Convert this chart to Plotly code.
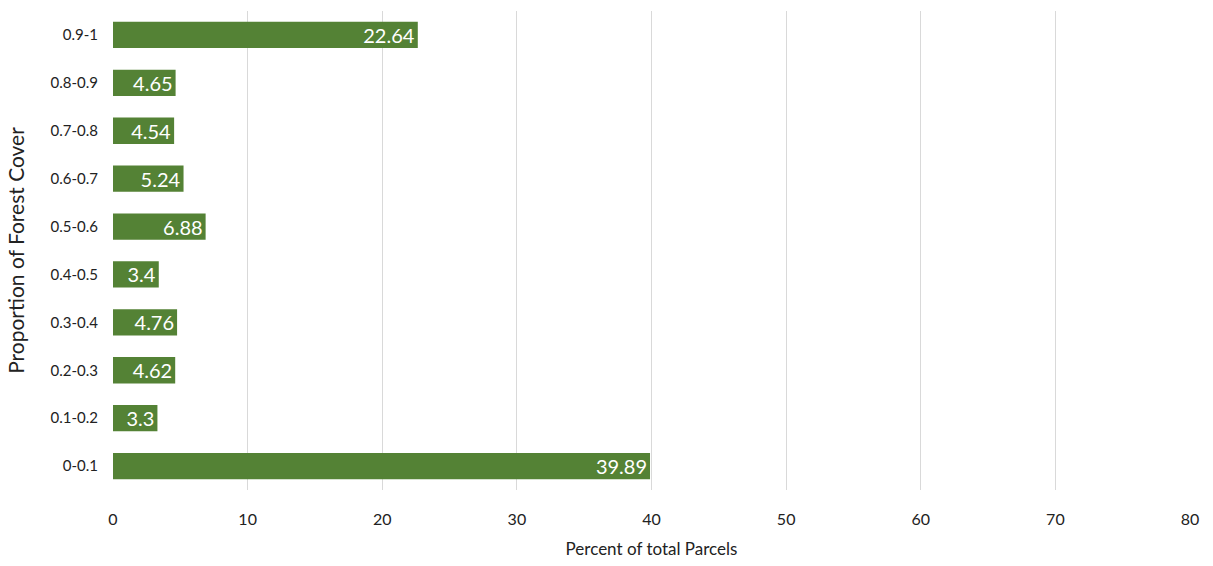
import plotly.graph_objects as go

categories = ["0-0.1", "0.1-0.2", "0.2-0.3", "0.3-0.4", "0.4-0.5",
              "0.5-0.6", "0.6-0.7", "0.7-0.8", "0.8-0.9", "0.9-1"]
values = [39.89, 3.3, 4.62, 4.76, 3.4, 6.88, 5.24, 4.54, 4.65, 22.64]
labels = ["39.89", "3.3", "4.62", "4.76", "3.4", "6.88", "5.24", "4.54", "4.65", "22.64"]
x_ticks = [0, 10, 20, 30, 40, 50, 60, 70, 80]

font_family = "Lato, Open Sans, sans-serif"

fig = go.Figure(go.Bar(
    y=categories, x=values, orientation="h",
    marker=dict(color="#548235", line=dict(width=0)),
    text=labels, textposition="inside", insidetextanchor="end",
    constraintext="none",
    insidetextfont=dict(color="white", size=20, family=font_family),
    width=0.55,
))

fig.update_layout(
    width=1213, height=566,
    margin=dict(l=113, r=23, t=11, b=76),
    plot_bgcolor="white", paper_bgcolor="white",
    showlegend=False,
    font=dict(family=font_family, color="#222222"),
    xaxis=dict(range=[0, 80], tickvals=x_ticks, showgrid=True,
               gridcolor="#d9d9d9", gridwidth=1, zeroline=False,
               showline=False, tickfont=dict(size=16, color="#222222"),
               ticklabelstandoff=18,
               title=dict(text="Percent of total Parcels",
                          font=dict(size=17, color="#222222"), standoff=16)),
    yaxis=dict(categoryorder="array", categoryarray=categories,
               showgrid=False, zeroline=False, showline=False,
               tickfont=dict(size=15, color="#222222"),
               ticklabelstandoff=14,
               title=dict(text="Proportion of Forest Cover",
                          font=dict(size=21, color="#222222"), standoff=20)),
)

fig.write_html("out.html")
